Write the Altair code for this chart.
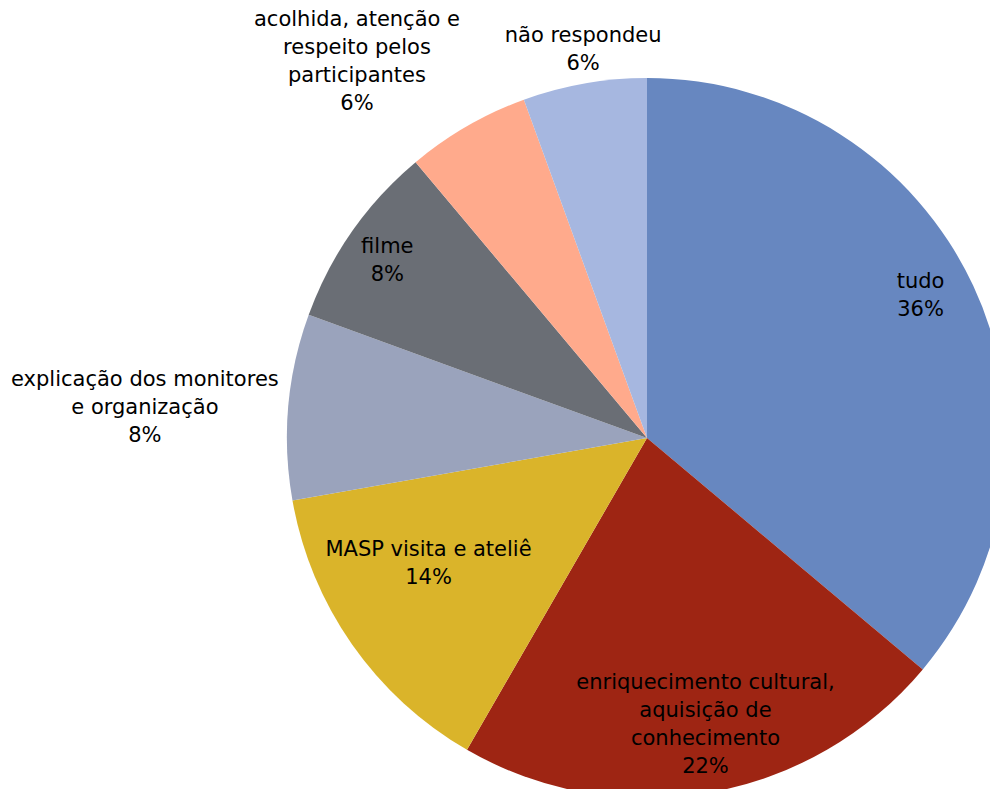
import altair as alt
import pandas as pd
import math

# --- data ---
categories = [
    "tudo",
    "enriquecimento cultural, aquisição de conhecimento",
    "MASP visita e ateliê",
    "explicação dos monitores e organização",
    "filme",
    "acolhida, atenção e respeito pelos participantes",
    "não respondeu",
]
label_lines = [
    "tudo",
    "enriquecimento cultural,\naquisição de\nconhecimento",
    "MASP visita e ateliê",
    "explicação dos monitores\ne organização",
    "filme",
    "acolhida, atenção e\nrespeito pelos\nparticipantes",
    "não respondeu",
]
counts = [13, 8, 5, 3, 3, 2, 2]  # responses (36 in total)

# --- style / layout ---
colors = ["#6787C0", "#9E2513", "#DAB42A", "#9AA3BC", "#6A6E75", "#FFAA8C", "#A6B7E0"]
label_radius = [308, 293, 252, 503, 314, 475, 393]
label_nudge = [-0.66, -0.42, 1.42, -0.44, -0.22, -2.12, 0.18]  # in percent of the circle

df = pd.DataFrame({
    "order": list(range(len(categories))),
    "category": categories,
    "lines": label_lines,
    "value": counts,
    "lr": label_radius,
    "nudge": label_nudge,
})

FONT = "DejaVu Sans"
FS = 21
LH = 28
CX, CY, R = 639, 430, 360

base = alt.Chart(df)

pie = base.mark_arc(radius=R).encode(
    theta=alt.Theta("value:Q", stack=True),
    order=alt.Order("order:Q"),
    color=alt.Color("category:N", scale=alt.Scale(domain=categories, range=colors), legend=None),
    x=alt.value(CX),
    y=alt.value(CY),
)

label_base = base.transform_joinaggregate(
    total="sum(value)"
).transform_window(
    cum="sum(value)", sort=[alt.SortField("order")], frame=[None, 0]
).transform_calculate(
    mid="(datum.cum - datum.value / 2) / datum.total * 100 + datum.nudge",
    label="datum.lines + '\\n' + round(datum.value / datum.total * 100) + '%'",
    nlines="split(datum.lines, '\\n').length + 1",
)

layers = [pie]
for n in (2, 3, 4):
    layers.append(
        label_base.transform_filter(f"datum.nlines == {n}").mark_text(
            font=FONT, fontSize=FS, lineBreak="\n", lineHeight=LH,
            align="center", baseline="middle", color="#000000",
            dy=-(n - 1) * LH / 2,
        ).encode(
            theta=alt.Theta("mid:Q", stack=None,
                            scale=alt.Scale(domain=[0, 100], range=[0, 2 * math.pi])),
            radius=alt.Radius("lr:Q", scale=None),
            text="label:N",
            x=alt.value(CX),
            y=alt.value(CY),
        )
    )

chart = alt.layer(*layers).properties(
    width=982, height=781, autosize=alt.AutoSizeParams(type="none"), padding=0
).configure_view(stroke=None).resolve_scale(theta="independent")

chart.save("out.html", embed_options={"renderer": "svg", "actions": False})
